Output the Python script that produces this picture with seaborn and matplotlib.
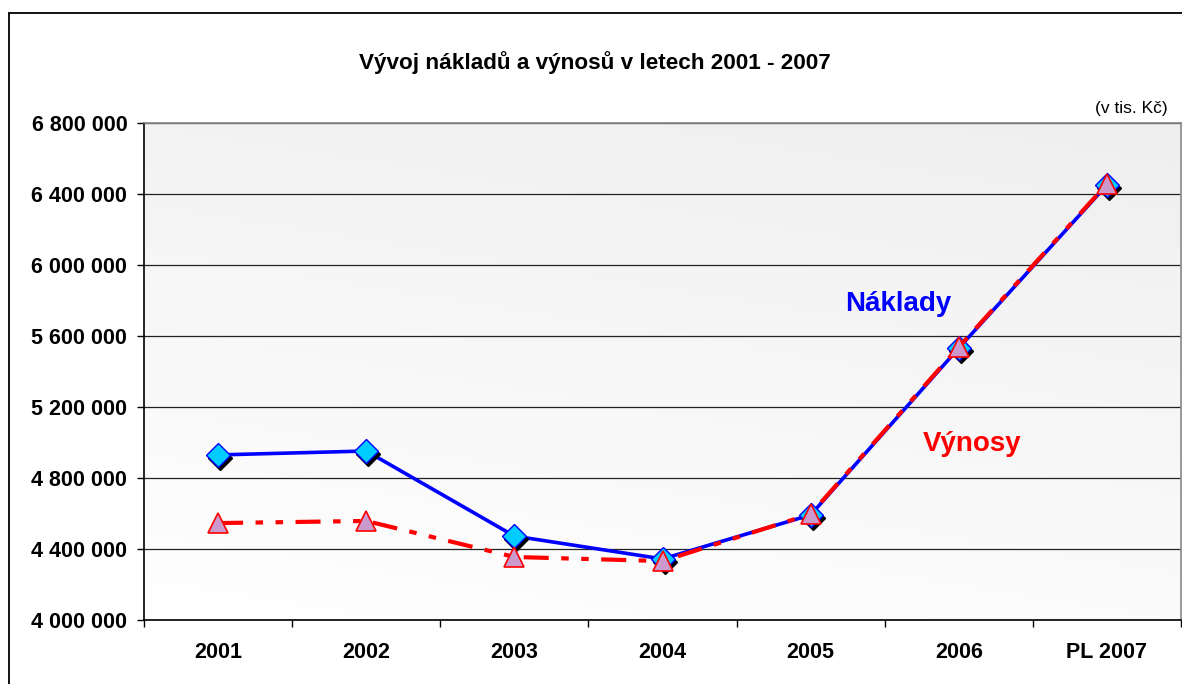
import numpy as np
import pandas as pd
import matplotlib
matplotlib.use("Agg")
import matplotlib.pyplot as plt
import matplotlib.transforms as mtransforms
from matplotlib.ticker import FuncFormatter
from matplotlib.colors import LinearSegmentedColormap
import seaborn as sns

# ---- data ----
categories = ["2001", "2002", "2003", "2004", "2005", "2006", "PL 2007"]
naklady = [4930000, 4952000, 4473000, 4344000, 4592000, 5532000, 6451000]
vynosy = [4546000, 4558000, 4355000, 4332000, 4597000, 5538000, 6456000]
title = "Vývoj nákladů a výnosů v letech 2001 - 2007"
unit_note = "(v tis. Kč)"
label_naklady = "Náklady"
label_vynosy = "Výnosy"
y_min, y_max, y_step = 4000000, 6800000, 400000

sns.set_theme(style="white")
plt.rcParams["font.family"] = ["Liberation Sans", "DejaVu Sans"]

df = pd.DataFrame({
    "kategorie": categories,
    "pos": np.arange(len(categories)),
    "Náklady": naklady,
    "Výnosy": vynosy,
})

fig = plt.figure(figsize=(11.82, 6.84), dpi=100)
ax = fig.add_axes([144 / 1182, (684 - 620) / 684, (1181 - 144) / 1182, (620 - 123) / 684])

# background gradient (light gray at top right -> white at bottom left)
gx, gy = np.meshgrid(np.linspace(0, 1, 200), np.linspace(0, 1, 200))
grad = 0.75 * gy + 0.25 * gx
cmap = LinearSegmentedColormap.from_list("bg", ["#ffffff", "#efefef"])
ax.imshow(grad, cmap=cmap, origin="lower", extent=[0, 1, 0, 1],
          transform=ax.transAxes, aspect="auto", zorder=0, interpolation="bilinear")

# Náklady line
sns.lineplot(data=df, x="pos", y="Náklady", ax=ax, color="#0000ff", lw=2.6,
             zorder=3, legend=False)
# shadows for diamonds
shadow = mtransforms.offset_copy(ax.transData, fig=fig, x=2, y=-3, units="dots")
ax.plot(df["pos"], df["Náklady"], ls="none", marker="D", ms=12.5,
        mfc="black", mec="black", transform=shadow, zorder=4)
sns.lineplot(data=df, x="pos", y="Náklady", ax=ax, ls="none", marker="D", ms=12.5,
             markerfacecolor="#00ccff", markeredgecolor="#0000ff", markeredgewidth=1.0,
             zorder=5, legend=False)

# Výnosy line
sns.lineplot(data=df, x="pos", y="Výnosy", ax=ax, color="#ff0000", lw=3.0,
             dashes=False, zorder=6, legend=False)
ax.lines[-1].set_linestyle((0, (6, 3, 1.8, 3, 1.8, 3)))
ax.lines[-1].set_dash_capstyle("butt")
sns.lineplot(data=df, x="pos", y="Výnosy", ax=ax, ls="none", marker="^", ms=15,
             markerfacecolor="#cc99cc", markeredgecolor="#ff0000", markeredgewidth=1.2,
             zorder=7, legend=False)

# axes
ax.set_xlim(-0.5, len(categories) - 0.5)
ax.set_ylim(y_min, y_max)
ax.set_yticks(np.arange(y_min, y_max + 1, y_step))
ax.yaxis.set_major_formatter(FuncFormatter(lambda v, p: f"{v:,.0f}".replace(",", " ")))
ax.set_xticks(df["pos"])
ax.set_xticklabels(categories)
ax.set_xticks(np.arange(-0.5, len(categories), 1.0), minor=True)
ax.set_xlabel("")
ax.set_ylabel("")

ax.tick_params(axis="x", which="major", length=0, pad=16, labelsize=15.5)
ax.tick_params(axis="x", which="minor", length=5, width=1.0, color="black", direction="out", bottom=True)
ax.tick_params(axis="y", which="major", length=5, width=1.0, color="black", direction="out",
               left=True, pad=7, labelsize=15.5)
for lab in ax.get_xticklabels() + ax.get_yticklabels():
    lab.set_fontweight("bold")
    lab.set_color("black")

ax.grid(axis="y", color="#222222", lw=0.9, zorder=1)
ax.grid(axis="x", visible=False)
ax.set_axisbelow(True)
for side in ["left", "bottom"]:
    ax.spines[side].set_color("black")
    ax.spines[side].set_linewidth(1.2)
for side in ["top", "right"]:
    ax.spines[side].set_color("#888888")
    ax.spines[side].set_linewidth(1.2)

# series labels
ax.text(4.59, 5780000, label_naklady, color="#0000ff", fontsize=20, fontweight="bold",
        ha="center", va="center", zorder=8)
ax.text(5.09, 4990000, label_vynosy, color="#ff0000", fontsize=20, fontweight="bold",
        ha="center", va="center", zorder=8)

# title and unit note
fig.text(595 / 1182, 1 - 63 / 684, title, ha="center", va="center",
         fontsize=16.2, fontweight="bold", color="black")
fig.text(1168 / 1182, 1 - 108 / 684, unit_note, ha="right", va="center",
         fontsize=12.5, color="black")

# outer chart frame (extends past right and bottom edges)
fig.add_artist(plt.Line2D([9.5 / 1182, 9.5 / 1182], [0, 1 - 13 / 684], color="black",
                          lw=1.3, transform=fig.transFigure))
fig.add_artist(plt.Line2D([9.5 / 1182, 1], [1 - 13 / 684, 1 - 13 / 684], color="black",
                          lw=1.3, transform=fig.transFigure))

fig.savefig("out.png", dpi=100)
